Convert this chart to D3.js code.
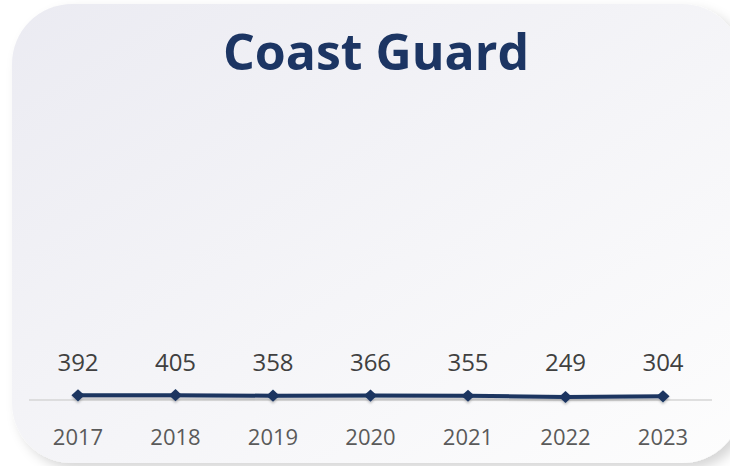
<!DOCTYPE html>
<html>
<head>
<meta charset="utf-8">
<script src="https://cdn.jsdelivr.net/npm/d3@7"></script>
<style>
  html, body { margin: 0; padding: 0; background: #fff; }
  svg { display: block; }
</style>
</head>
<body>
<div id="chart"></div>
<script>
const TITLE = 'Coast Guard';
const years = ['2017', '2018', '2019', '2020', '2021', '2022', '2023'];
const values = [392, 405, 358, 366, 355, 249, 304];

const WIDTH = 730;
const HEIGHT = 466;

const svg = d3.select('#chart')
  .append('svg')
  .attr('width', WIDTH)
  .attr('height', HEIGHT);

const defs = svg.append('defs');

const grad = defs.append('linearGradient')
  .attr('id', 'cardGrad')
  .attr('x1', '0%').attr('y1', '0%')
  .attr('x2', '100%').attr('y2', '100%');
grad.append('stop').attr('offset', '0%').attr('stop-color', '#ebebf2');
grad.append('stop').attr('offset', '55%').attr('stop-color', '#f5f5f8');
grad.append('stop').attr('offset', '100%').attr('stop-color', '#fdfdfd');

const cardShadow = defs.append('filter')
  .attr('id', 'cardShadow')
  .attr('x', '-10%').attr('y', '-10%')
  .attr('width', '130%').attr('height', '130%');
cardShadow.append('feDropShadow')
  .attr('dx', 6).attr('dy', 6)
  .attr('stdDeviation', 6)
  .attr('flood-color', '#000')
  .attr('flood-opacity', 0.16);

const lineShadow = defs.append('filter')
  .attr('id', 'lineShadow')
  .attr('x', '-5%').attr('y', '-200%')
  .attr('width', '110%').attr('height', '500%');
lineShadow.append('feDropShadow')
  .attr('dx', 0).attr('dy', 2)
  .attr('stdDeviation', 1)
  .attr('flood-color', '#000')
  .attr('flood-opacity', 0.22);

// Card
svg.append('rect')
  .attr('x', 12).attr('y', 4)
  .attr('width', 730).attr('height', 459)
  .attr('rx', 60).attr('ry', 60)
  .attr('fill', 'url(#cardGrad)')
  .attr('filter', 'url(#cardShadow)');

// Title
svg.append('text')
  .attr('x', 376)
  .attr('y', 70)
  .attr('text-anchor', 'middle')
  .attr('font-family', '"Open Sans", "Noto Sans", sans-serif')
  .attr('font-weight', 700)
  .attr('font-size', '50px')
  .attr('fill', '#1c3563')
  .text(TITLE);

const x = d3.scalePoint()
  .domain(years)
  .range([78, 663]);

// shared-scale look: values sit almost on the baseline
const y = d3.scaleLinear()
  .domain([0, 25000])
  .range([400, 100]);

// Baseline
svg.append('line')
  .attr('x1', 29).attr('x2', 712)
  .attr('y1', y(0)).attr('y2', y(0))
  .attr('stroke', '#d6d6d6')
  .attr('stroke-width', 1.5);

const data = years.map((yr, i) => ({ year: yr, value: values[i] }));

const line = d3.line()
  .x(d => x(d.year))
  .y(d => y(d.value));

const g = svg.append('g').attr('filter', 'url(#lineShadow)');

g.append('path')
  .datum(data)
  .attr('fill', 'none')
  .attr('stroke', '#1b3561')
  .attr('stroke-width', 4)
  .attr('d', line);

g.selectAll('.marker')
  .data(data)
  .enter()
  .append('path')
  .attr('class', 'marker')
  .attr('d', d3.symbol().type(d3.symbolDiamond2).size(95))
  .attr('transform', d => `translate(${x(d.year)},${y(d.value)}) scale(1.08,1)`)
  .attr('fill', '#1b3561');

// Value labels
svg.selectAll('.val')
  .data(data)
  .enter()
  .append('text')
  .attr('class', 'val')
  .attr('x', d => x(d.year))
  .attr('y', 371)
  .attr('text-anchor', 'middle')
  .attr('font-family', '"Open Sans", "Noto Sans", sans-serif')
  .attr('font-size', '24px')
  .attr('fill', '#404040')
  .text(d => d.value);

// Year labels
svg.selectAll('.yr')
  .data(data)
  .enter()
  .append('text')
  .attr('class', 'yr')
  .attr('x', d => x(d.year))
  .attr('y', 445)
  .attr('text-anchor', 'middle')
  .attr('font-family', '"Open Sans", "Noto Sans", sans-serif')
  .attr('font-size', '22px')
  .attr('fill', '#5a5a5a')
  .text(d => d.year);
</script>
</body>
</html>
